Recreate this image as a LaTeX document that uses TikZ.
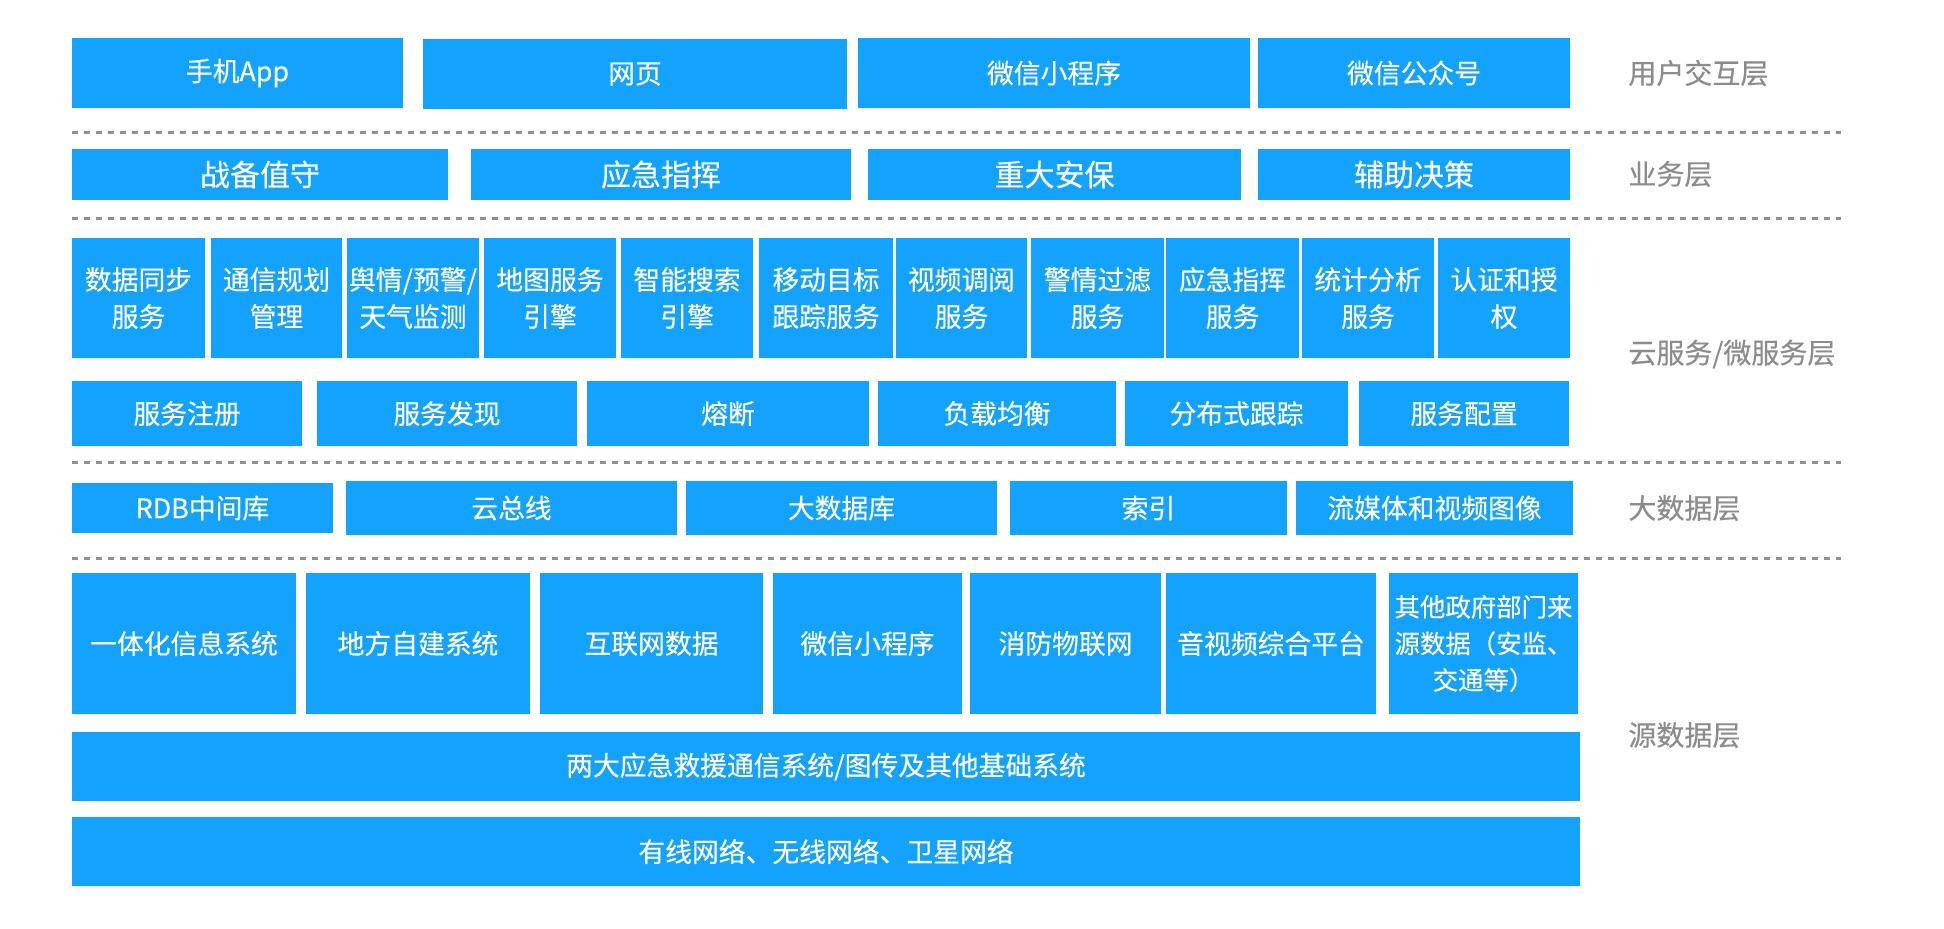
\documentclass[tikz,border=0pt]{standalone}
\usepackage{fontspec}
\setmainfont{Noto Sans CJK SC}[FakeBold=0.35]
\definecolor{boxblue}{RGB}{20,162,255}
\definecolor{labgray}{RGB}{140,140,140}
\definecolor{dashgray}{RGB}{145,145,145}
\tikzset{
  box/.style={fill=boxblue, draw=none, text=white, inner sep=0pt, outer sep=0pt, align=center, font=\fontsize{13.4}{18.5}\selectfont},
  bigtxt/.style={font=\fontsize{15}{19}\selectfont},
  smalltxt/.style={font=\fontsize{12.7}{18.3}\selectfont},
  layerlab/.style={text=labgray, anchor=west, inner sep=0pt, font=\fontsize{14}{17}\selectfont},
  sepline/.style={draw=dashgray, line width=1.5pt, dash pattern=on 3pt off 3pt}
}
\newcommand\bx[7][]{\node[box,#1, anchor=north west, minimum width={(#4-#2)*0.5pt}, minimum height={(#6-#3)*0.5pt}] (#7) at (#2,#3) {#5};}
\begin{document}
\begin{tikzpicture}[x=0.5pt,y=-0.5pt]
\useasboundingbox (0,0) rectangle (1944,928);
% row 1
\bx{72}{38}{403}{手机App}{108}{u1}
\bx{423}{39}{847}{网页}{109}{u2}
\bx{858}{38}{1250}{微信小程序}{108}{u3}
\bx{1258}{38}{1570}{微信公众号}{108}{u4}
\node[layerlab] (l1) at (1628,73) {用户交互层};
\coordinate (d1a) at (72,132); \coordinate (d1b) at (1841,132);
\draw[sepline] (d1a) -- (d1b);
% row 2
\bx[bigtxt]{72}{149}{448}{战备值守}{200}{b1}
\bx[bigtxt]{471}{149}{851}{应急指挥}{200}{b2}
\bx[bigtxt]{868}{149}{1241}{重大安保}{200}{b3}
\bx[bigtxt]{1258}{149}{1570}{辅助决策}{200}{b4}
\node[layerlab] (l2) at (1628,174) {业务层};
\coordinate (d2a) at (72,218); \coordinate (d2b) at (1841,218);
\draw[sepline] (d2a) -- (d2b);
% row 3
\bx{72}{238}{205}{数据同步\\服务}{358}{s1}
\bx{211}{238}{342}{通信规划\\管理}{358}{s2}
\bx{347}{238}{479}{舆情/预警/\\天气监测}{358}{s3}
\bx{484}{238}{616}{地图服务\\引擎}{358}{s4}
\bx{621}{238}{753}{智能搜索\\引擎}{358}{s5}
\bx{759}{238}{893}{移动目标\\跟踪服务}{358}{s6}
\bx{896}{238}{1027}{视频调阅\\服务}{358}{s7}
\bx{1031}{238}{1164}{警情过滤\\服务}{358}{s8}
\bx{1166}{238}{1299}{应急指挥\\服务}{358}{s9}
\bx{1302}{238}{1434}{统计分析\\服务}{358}{s10}
\bx{1438}{238}{1570}{认证和授\\权}{358}{s11}
% row 4
\bx{72}{381}{302}{服务注册}{446}{m1}
\bx{317}{381}{577}{服务发现}{446}{m2}
\bx{587}{381}{869}{熔断}{446}{m3}
\bx{878}{381}{1116}{负载均衡}{446}{m4}
\bx{1125}{381}{1348}{分布式跟踪}{446}{m5}
\bx{1359}{381}{1569}{服务配置}{446}{m6}
\node[layerlab] (l3) at (1628,354) {云服务/微服务层};
\coordinate (d3a) at (72,462); \coordinate (d3b) at (1841,462);
\draw[sepline] (d3a) -- (d3b);
% row 5
\bx{72}{483}{333}{RDB中间库}{533}{g1}
\bx{346}{481}{677}{云总线}{535}{g2}
\bx{686}{481}{997}{大数据库}{535}{g3}
\bx{1010}{481}{1287}{索引}{535}{g4}
\bx{1296}{481}{1573}{流媒体和视频图像}{535}{g5}
\node[layerlab] (l4) at (1628,508) {大数据层};
\coordinate (d4a) at (72,558); \coordinate (d4b) at (1841,558);
\draw[sepline] (d4a) -- (d4b);
% row 6
\bx{72}{573}{296}{一体化信息系统}{714}{r1}
\bx{306}{573}{530}{地方自建系统}{714}{r2}
\bx{540}{573}{763}{互联网数据}{714}{r3}
\bx{773}{573}{962}{微信小程序}{714}{r4}
\bx{970}{573}{1161}{消防物联网}{714}{r5}
\bx{1166}{573}{1376}{音视频综合平台}{714}{r6}
\bx[smalltxt]{1389}{573}{1578}{其他政府部门来\\源数据（安监、\\交通等）}{714}{r7}
% rows 7, 8
\bx{72}{732}{1580}{两大应急救援通信系统/图传及其他基础系统}{801}{w1}
\bx{72}{817}{1580}{有线网络、无线网络、卫星网络}{886}{w2}
\node[layerlab] (l5) at (1628,735) {源数据层};
\end{tikzpicture}
\end{document}
